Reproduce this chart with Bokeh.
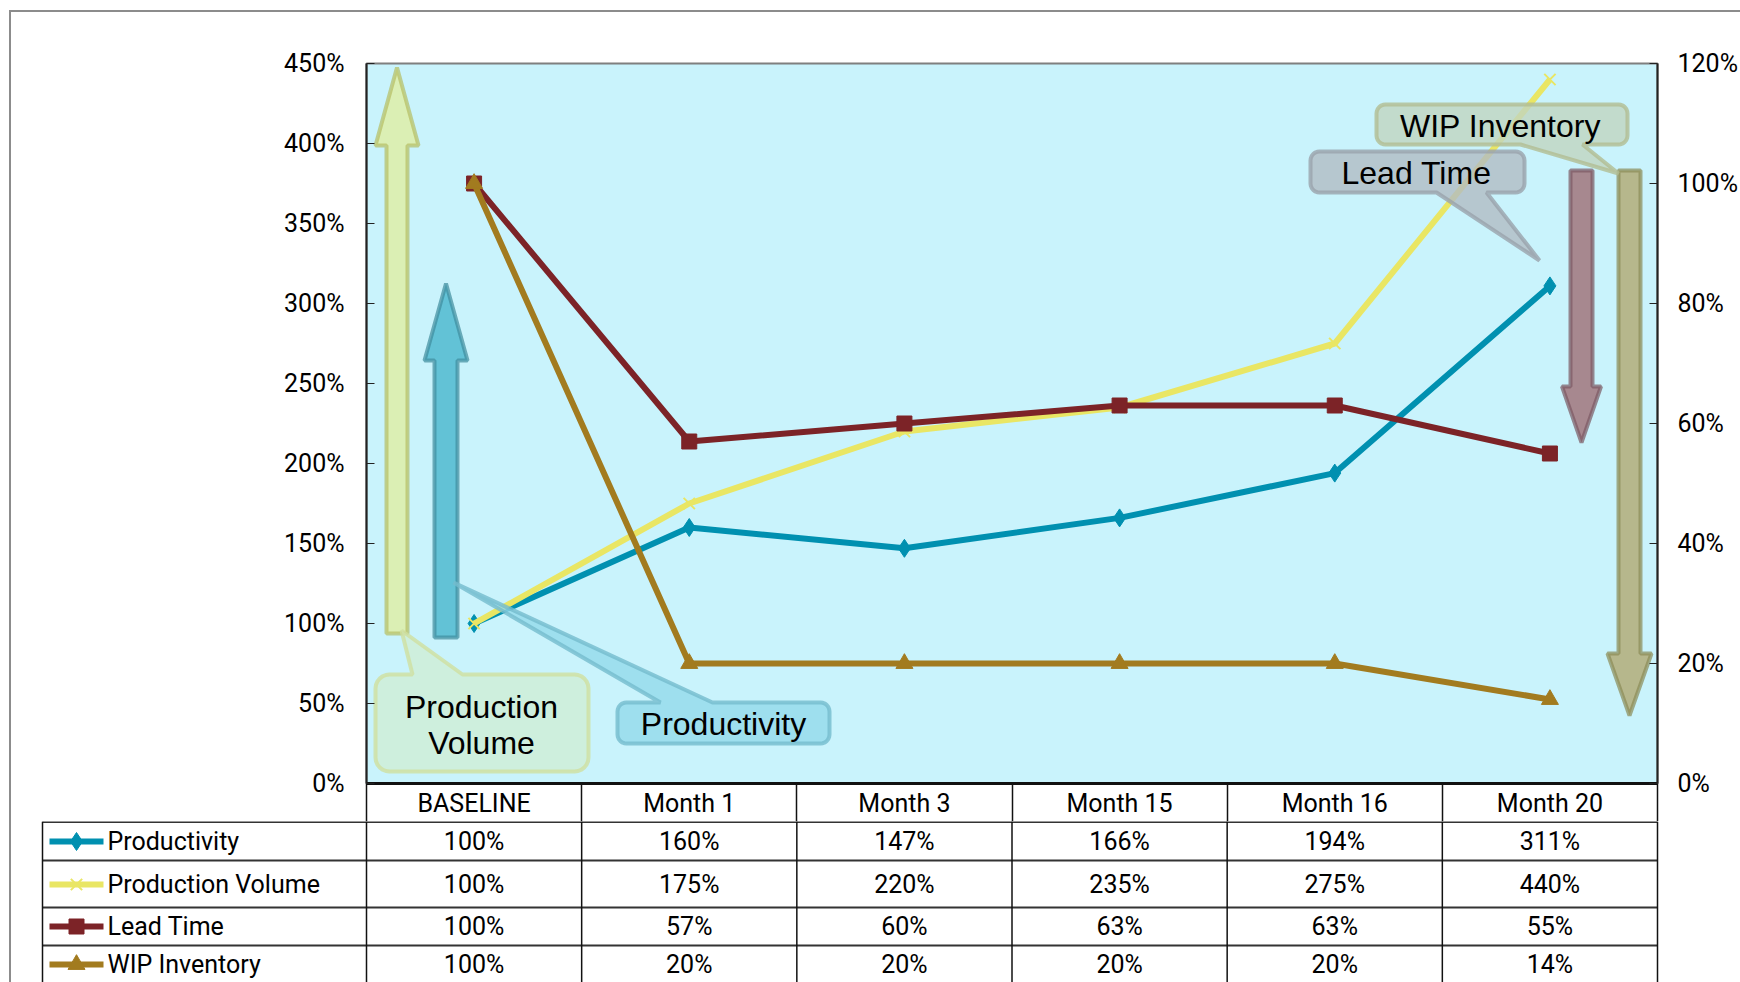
import math
from bokeh.plotting import figure
from bokeh.models import Range1d, LinearAxis, FixedTicker, PrintfTickFormatter
from bokeh.layouts import column
from bokeh.embed import file_html
from bokeh.resources import INLINE
from bokeh.core.properties import value

# ---------------- data ----------------
categories = ["BASELINE", "Month 1", "Month 3", "Month 15", "Month 16", "Month 20"]
productivity = [100, 160, 147, 166, 194, 311]
production_volume = [100, 175, 220, 235, 275, 440]
lead_time = [100, 57, 60, 63, 63, 55]
wip_inventory = [100, 20, 20, 20, 20, 14]
series_names = ["Productivity", "Production Volume", "Lead Time", "WIP Inventory"]
left_ticks = [0, 50, 100, 150, 200, 250, 300, 350, 400, 450]
right_ticks = [0, 20, 40, 60, 80, 100, 120]

# ---------------- styles / layout ----------------
C_PROD = "#0090b0"
C_PV = "#e9e664"
C_LT = "#7c2327"
C_WIP = "#a27b1f"
TFONT = "Roboto"
TSIZE = "25px"
SANS = "Liberation Sans"
LW = 6
PAGE_W, PAGE_H = 1740, 982
FL, FR, FT, FB = 366, 1657, 63, 783      # plot frame, page px
HEAD_B = 821                              # bottom of header row
n = len(categories)
COLW = (FR - FL) / n
YMAX, Y2MAX = 450, 120
BORDER = "#8c8c8c"

def dx(px):
    return (px - FL) / COLW

def dy(py):
    return (FB - py) * YMAX / (FB - FT)

xs = [i + 0.5 for i in range(n)]
edges = list(range(n + 1))

# ---------------- chart figure ----------------
pA = figure(width=PAGE_W, height=HEAD_B, x_range=Range1d(0, n), y_range=Range1d(0, YMAX),
            x_axis_location=None, y_axis_location=None, toolbar_location=None,
            output_backend="svg", min_border_left=FL, min_border_right=PAGE_W - FR,
            min_border_top=FT, min_border_bottom=HEAD_B - FB, frame_align=False,
            background_fill_color="#c9f3fc", border_fill_alpha=0,
            outline_line_color="#7f7f7f", outline_line_width=2,
            styles={"background": f"linear-gradient({BORDER},{BORDER}) 9px 10px / 2px 100% no-repeat, "
                                  f"linear-gradient({BORDER},{BORDER}) 9px 10px / 100% 2px no-repeat, white"})
pA.grid.visible = False
pA.extra_y_ranges = {"right": Range1d(0, Y2MAX)}

yl = LinearAxis(ticker=FixedTicker(ticks=left_ticks), formatter=PrintfTickFormatter(format="%d%%"),
                major_tick_in=8, major_tick_out=0, minor_tick_in=0, minor_tick_out=0,
                axis_line_color="#222222", axis_line_width=2, major_tick_line_color="#222222",
                major_label_standoff=22, major_label_text_font=TFONT,
                major_label_text_font_size=TSIZE, major_label_text_color="black")
pA.add_layout(yl, "left")
yr = LinearAxis(y_range_name="right", ticker=FixedTicker(ticks=right_ticks),
                formatter=PrintfTickFormatter(format="%d%%"),
                major_tick_in=8, major_tick_out=0, minor_tick_in=0, minor_tick_out=0,
                axis_line_color="#222222", axis_line_width=2, major_tick_line_color="#222222",
                major_label_standoff=20, major_label_text_font=TFONT,
                major_label_text_font_size=TSIZE, major_label_text_color="black")
pA.add_layout(yr, "right")
xb = LinearAxis(ticker=FixedTicker(ticks=xs, minor_ticks=edges),
                major_label_overrides={x: c for x, c in zip(xs, categories)},
                major_tick_in=0, major_tick_out=0, minor_tick_in=0, minor_tick_out=HEAD_B - FB,
                minor_tick_line_color="#111111", minor_tick_line_width=1.5,
                axis_line_color="#111111", axis_line_width=3,
                major_label_standoff=-(HEAD_B - FB) + 5, major_label_text_font=TFONT,
                major_label_text_font_size=TSIZE, major_label_text_color="black")
pA.add_layout(xb, "below")

# series
pA.line(xs, productivity, line_color=C_PROD, line_width=LW)
pA.scatter(xs, productivity, marker="diamond", size=18, fill_color=C_PROD, line_color=C_PROD)
pA.line(xs, production_volume, line_color=C_PV, line_width=LW)
pA.scatter(xs, production_volume, marker="x", size=16, line_color=C_PV, line_width=2)
pA.line(xs, lead_time, y_range_name="right", line_color=C_LT, line_width=LW)
pA.scatter(xs, lead_time, y_range_name="right", marker="square", size=15,
           fill_color=C_LT, line_color=C_LT)
pA.line(xs, wip_inventory, y_range_name="right", line_color=C_WIP, line_width=LW)
pA.scatter(xs, wip_inventory, y_range_name="right", marker="triangle", size=17,
           fill_color=C_WIP, line_color=C_WIP)

# arrows (page px geometry)
def arrow(cx, sw, hw, tip, hb, tail):
    px = [cx - sw, cx - sw, cx - hw, cx, cx + hw, cx + sw, cx + sw]
    py = [tail, hb, hb, tip, hb, hb, tail]
    return [dx(v) for v in px], [dy(v) for v in py]

for (cx, sw, hw, tip, hb, tail, fc, lc) in [
        (396.5, 10.5, 21.5, 67, 145, 633, "#dbefb4", "#b5bd62"),
        (445.5, 11.5, 21.5, 283, 360, 637, "#62c2d6", "#3e8b9c"),
        (1581, 11, 19.5, 442, 386, 170, "#a7888f", "#7a5862"),
        (1629, 11, 22, 715, 653, 170, "#b6b78c", "#8a8a56")]:
    ax_, ay_ = arrow(cx, sw, hw, tip, hb, tail)
    pA.patch(ax_, ay_, fill_color=fc, line_color=lc, line_width=4, line_alpha=0.7)

# callouts
def callout(x0, y0, x1, y1, r, side, pa, pb, apex):
    pts = []
    def arc(cx, cy, a0, a1):
        for k in range(7):
            a = a0 + (a1 - a0) * k / 6
            pts.append((cx + r * math.cos(a), cy + r * math.sin(a)))
    arc(x0 + r, y0 + r, math.pi, 1.5 * math.pi)
    if side == "top":
        pts.extend([(pa, y0), apex, (pb, y0)])
    arc(x1 - r, y0 + r, 1.5 * math.pi, 2 * math.pi)
    arc(x1 - r, y1 - r, 0, 0.5 * math.pi)
    if side == "bottom":
        pts.extend([(pb, y1), apex, (pa, y1)])
    arc(x0 + r, y1 - r, 0.5 * math.pi, math.pi)
    return [dx(p[0]) for p in pts], [dy(p[1]) for p in pts]

callouts = [
    ((375, 674, 588, 771, 14, "top", 412, 462, (401, 630)), "#d0edd4", "#cfe0a0"),
    ((617, 702, 829, 743, 9, "top", 660, 712, (453, 582)), "#94d9ea", "#74bccd"),
    ((1310, 151, 1524, 192, 9, "bottom", 1436, 1486, (1539, 260)), "#b1bbc3", "#9aa3ab"),
    ((1376, 104, 1627, 144, 9, "bottom", 1520, 1582, (1618, 173)), "#c0d4bf", "#b2bd92"),
]
for geom, fc, lc in callouts:
    cx_, cy_ = callout(*geom)
    pA.patch(cx_, cy_, fill_color=fc, fill_alpha=0.8, line_color=lc, line_width=4, line_alpha=0.8)

ann_text = ["Production", "Volume", "Productivity", "Lead Time", "WIP Inventory"]
ann_x = [481, 481, 723, 1416, 1500]
ann_y = [706, 742, 723, 172, 125]
pA.text(x=[dx(v) for v in ann_x], y=[dy(v) for v in ann_y], text=ann_text,
        text_align="center", text_baseline="middle", text_font=value(SANS),
        text_font_size="32px", text_color="black")

# ---------------- data table figure ----------------
TL = 42
B_FL = 40
B_H = PAGE_H - HEAD_B
pB = figure(width=PAGE_W, height=B_H, x_range=Range1d(dx(B_FL), n + 2 / COLW),
            y_range=Range1d(B_H, 0), x_axis_location=None, y_axis_location=None,
            toolbar_location=None, output_backend="svg", frame_align=False,
            min_border_left=B_FL, min_border_right=PAGE_W - (FR + 2),
            min_border_top=0, min_border_bottom=0, outline_line_color=None,
            background_fill_color="white", border_fill_alpha=0,
            styles={"background": f"linear-gradient({BORDER},{BORDER}) 9px 0px / 2px 100% no-repeat, white"})
pB.grid.visible = False

row_edges = [0.5, 39, 86, 124, 162]
row_mid = [20, 63, 105, 143]
pB.segment(x0=[dx(TL)] * len(row_edges), x1=[n] * len(row_edges), y0=row_edges, y1=row_edges,
           line_color="#333333", line_width=2)
vx = [dx(TL)] + edges
pB.segment(x0=vx, x1=vx, y0=[0] * len(vx), y1=[row_edges[-1]] * len(vx),
           line_color="#111111", line_width=1.5)

colors = [C_PROD, C_PV, C_LT, C_WIP]
markers = ["diamond", "x", "square", "triangle"]
msizes = [18, 16, 15, 17]
values = [productivity, production_volume, lead_time, wip_inventory]
for name, col, mk, ms, vals, ym in zip(series_names, colors, markers, msizes, values, row_mid):
    pB.segment(x0=[dx(49)], x1=[dx(103)], y0=[ym], y1=[ym], line_color=col, line_width=LW)
    if mk == "x":
        pB.scatter([dx(76)], [ym], marker=mk, size=ms, line_color=col, line_width=2)
    else:
        pB.scatter([dx(76)], [ym], marker=mk, size=ms, fill_color=col, line_color=col)
    pB.text(x=[dx(107)], y=[ym], text=[name], text_align="left", text_baseline="middle",
            text_font=value(TFONT), text_font_size=TSIZE, text_color="black")
    pB.text(x=xs, y=[ym] * n, text=[f"{v}%" for v in vals], text_align="center",
            text_baseline="middle", text_font=value(TFONT), text_font_size=TSIZE,
            text_color="black")

layout = column(pA, pB, spacing=0)
open("out.html", "w").write(file_html(layout, INLINE))
